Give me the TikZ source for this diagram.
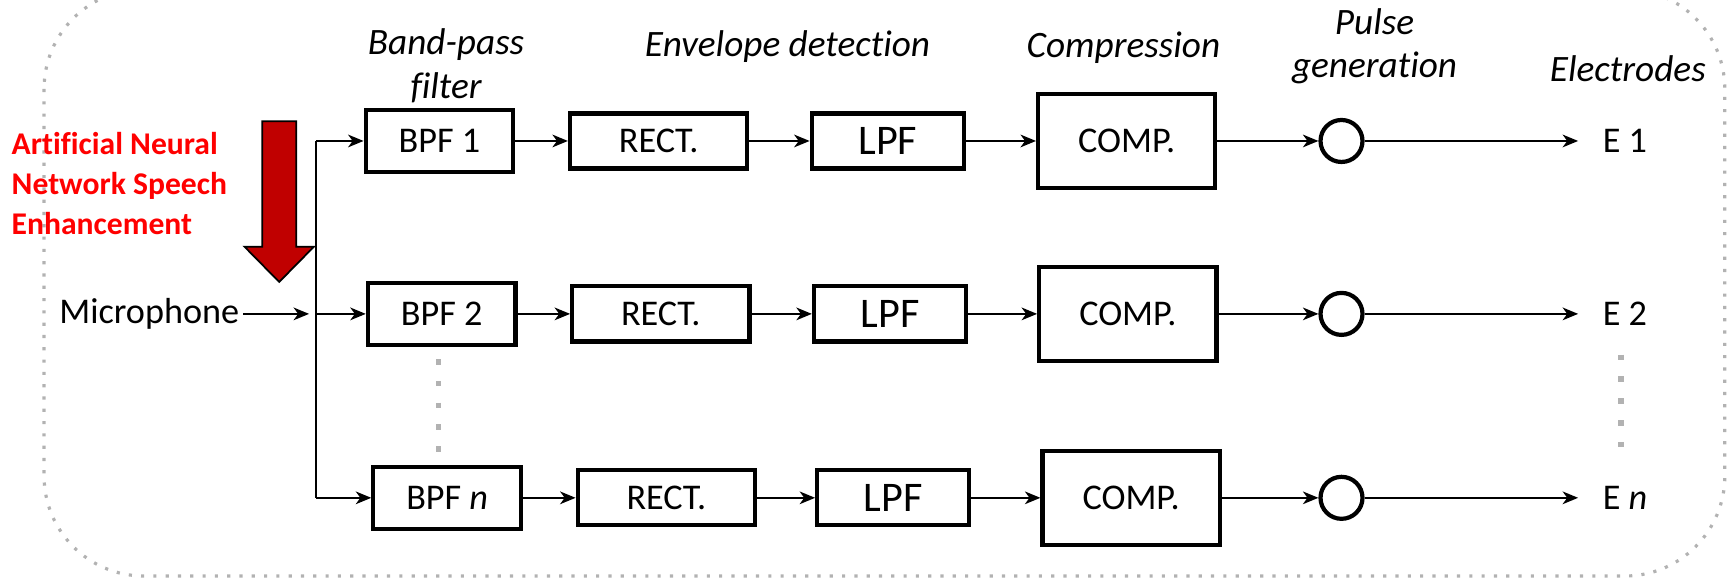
\documentclass[tikz,border=0pt]{standalone}
\usepackage{fontspec}
\setmainfont[Ligatures=NoCommon]{Carlito}
\usetikzlibrary{arrows.meta}
\definecolor{arrowred}{HTML}{C00000}

\begin{document}
\begin{tikzpicture}[x=0.011014cm, y=-0.011014cm,
  font=\fontsize{10.3}{12.5}\selectfont,
  >={Stealth[length=4.4pt,width=3.6pt,inset=1.3pt]},
  blk/.style={draw, line width=1.2pt, inner sep=0pt},
  bpf/.style={blk, minimum width=1.476cm, minimum height=0.617cm},
  rect/.style={blk, minimum width=1.773cm, minimum height=0.551cm},
  lpf/.style={blk, minimum width=1.52cm, minimum height=0.551cm, font=\fontsize{12}{14}\selectfont},
  comp/.style={blk, minimum width=1.773cm, minimum height=0.936cm},
  pulse/.style={draw, circle, line width=1.2pt, minimum size=0.42cm, inner sep=0pt},
  hdr/.style={font=\itshape\fontsize{10.6}{12.5}\selectfont, align=center},
  sig/.style={->, line width=0.6pt},
  vdots/.style={gray!60, line width=1.6pt, dash pattern=on 1.6pt off 4.6pt}]
\useasboundingbox (0,0) rectangle (1568,529);
\draw[gray!60, line width=0.9pt, dash pattern=on 0.9pt off 2.6pt, rounded corners=1cm] (40,-10) rectangle (1566,523);
\node[hdr] (hbpf) at (405,60) {Band-pass\\filter};
\node[hdr] (henv) at (715,42) {Envelope detection};
\node[hdr] (hcomp) at (1020,43) {Compression};
\node[hdr] (hpulse) at (1248,42) {Pulse\\generation};
\node[hdr] (helec) at (1478,62) {Electrodes};
\node[anchor=west, inner sep=0pt, text=red, align=left, font=\bfseries\fontsize{9}{11.4}\selectfont] (anns) at (10,167) {Artificial Neural\\Network Speech\\Enhancement};
\draw[fill=arrowred, line width=0.5pt] (238,110) -- (269,110) -- (269,224) -- (285,224) -- (253.5,256) -- (222,224) -- (238,224) -- cycle;
\node[anchor=east, inner xsep=1pt] (mic) at (221,285) {Microphone};
\coordinate (split1) at (287,128);
\coordinate (split2) at (287,285);
\coordinate (split3) at (287,452);
\node[bpf] (bpf1) at (399,128) {BPF 1};
\node[bpf] (bpf2) at (401,285) {BPF 2};
\node[bpf] (bpf3) at (406,452) {BPF \textit{n}};
\node[rect] (rect1) at (598,128) {RECT.};
\node[rect] (rect2) at (600,285) {RECT.};
\node[rect] (rect3) at (605,452) {RECT.};
\node[lpf] (lpf1) at (806,128) {LPF};
\node[lpf] (lpf2) at (808,285) {LPF};
\node[lpf] (lpf3) at (811,452) {LPF};
\node[comp] (comp1) at (1023,128) {COMP.};
\node[comp] (comp2) at (1024,285) {COMP.};
\node[comp] (comp3) at (1027,452) {COMP.};
\node[pulse] (pg1) at (1218,128) {};
\node[pulse] (pg2) at (1218,285) {};
\node[pulse] (pg3) at (1218,452) {};
\node[anchor=west] (e1) at (1444,128) {E 1};
\node[anchor=west] (e2) at (1444,285) {E 2};
\node[anchor=west] (e3) at (1444,452) {E \textit{n}};
\draw[sig, shorten >=2pt] (mic) -- (split2);
\draw[line width=0.6pt] (split1) -- (split3);
\draw[sig] (split1) -- (bpf1);
\draw[sig] (split2) -- (bpf2);
\draw[sig] (split3) -- (bpf3);
\draw[sig] (bpf1) -- (rect1);
\draw[sig] (bpf2) -- (rect2);
\draw[sig] (bpf3) -- (rect3);
\draw[sig] (rect1) -- (lpf1);
\draw[sig] (rect2) -- (lpf2);
\draw[sig] (rect3) -- (lpf3);
\draw[sig] (lpf1) -- (comp1);
\draw[sig] (lpf2) -- (comp2);
\draw[sig] (lpf3) -- (comp3);
\draw[sig] (comp1) -- (pg1);
\draw[sig] (comp2) -- (pg2);
\draw[sig] (comp3) -- (pg3);
\draw[sig, shorten >=3.5pt] (pg1) -- (e1);
\draw[sig, shorten >=3.5pt] (pg2) -- (e2);
\draw[sig, shorten >=3.5pt] (pg3) -- (e3);
\draw[vdots] (398,326) -- (398,412);
\draw[vdots] (1472,322) -- (1472,408);
\end{tikzpicture}
\end{document}
